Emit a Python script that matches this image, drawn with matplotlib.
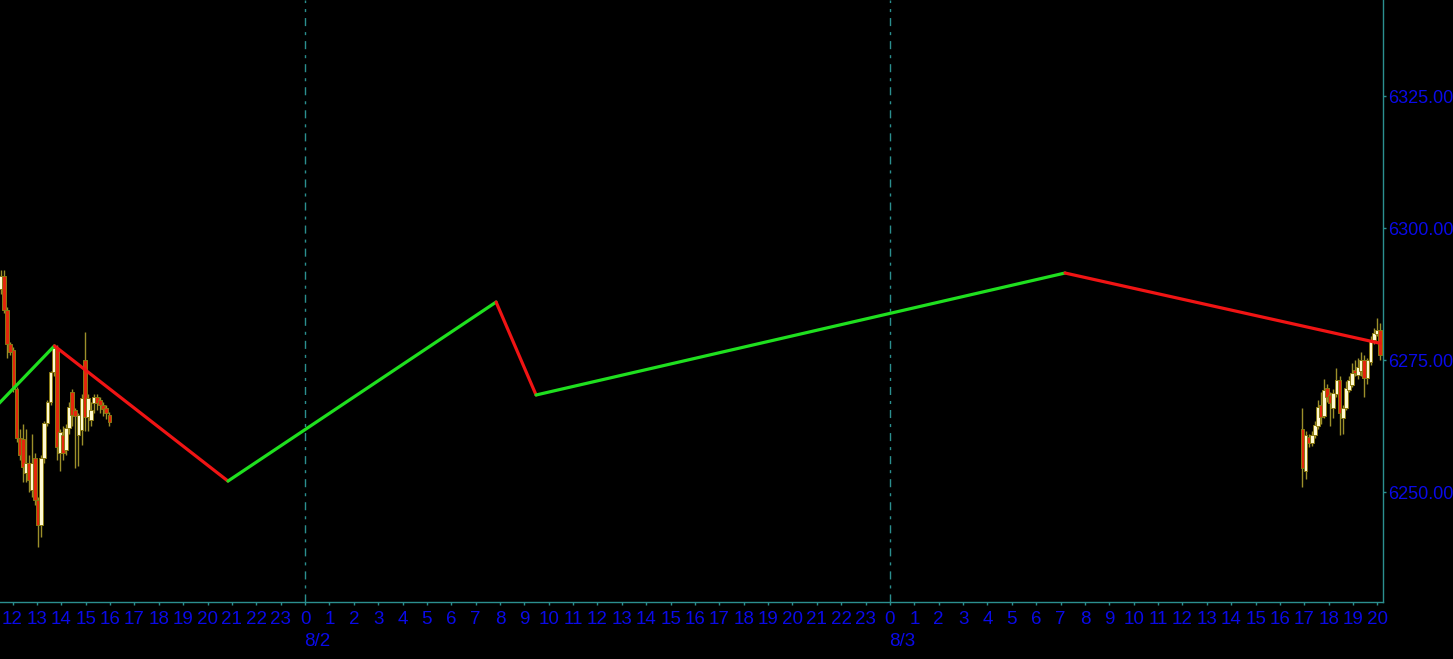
import matplotlib
matplotlib.use("Agg")
import matplotlib.pyplot as plt
import numpy as np

# time axis: hours since 8/1 00:00
ZZ_HOURS = [11.30, 13.72, 20.84, 31.84, 33.48, 55.18, 68.10]
ZZ_PRICES = [6266.1, 6277.7, 6252.1, 6286.0, 6268.4, 6291.5, 6278.2]

BAR_H = 0.127          # bar spacing (hours)
LEFT_START = 11.53
RIGHT_START = 64.92

LEFT_OPEN = [6288.5, 6291.0, 6284.5, 6278.0, 6277.0, 6269.6, 6260.2, 6260.0, 6253.6,
             6255.6, 6250.5, 6256.4, 6248.5, 6243.8, 6256.4, 6263.1, 6267.0, 6272.7,
             6277.3, 6257.4, 6260.8, 6258.0, 6262.1, 6268.9, 6265.5, 6260.8, 6261.7,
             6275.0, 6264.2, 6263.6, 6266.9, 6268.0, 6267.4, 6266.5, 6265.9, 6264.6]
LEFT_HIGH = [6292.0, 6292.0, 6285.0, 6278.5, 6277.5, 6270.0, 6262.0, 6263.0, 6262.0,
             6257.0, 6261.0, 6257.5, 6249.0, 6257.0, 6263.5, 6267.5, 6273.0, 6277.8,
             6277.8, 6262.0, 6262.5, 6263.0, 6267.0, 6269.5, 6266.0, 6265.0, 6268.5,
             6280.3, 6268.5, 6267.0, 6268.6, 6268.5, 6268.0, 6267.0, 6266.5, 6265.2]
LEFT_LOW = [6287.5, 6284.0, 6275.5, 6276.0, 6269.0, 6259.5, 6256.0, 6252.0, 6252.0,
            6250.0, 6249.0, 6247.5, 6239.6, 6241.5, 6255.5, 6262.5, 6266.5, 6272.0,
            6256.0, 6254.0, 6256.0, 6257.0, 6261.0, 6262.5, 6254.5, 6255.0, 6259.0,
            6261.5, 6261.5, 6262.5, 6265.0, 6265.5, 6265.0, 6264.5, 6263.8, 6262.5]
LEFT_CLOSE = [6291.0, 6284.5, 6278.0, 6276.6, 6269.6, 6260.2, 6257.0, 6254.8, 6255.6,
              6252.3, 6255.5, 6248.5, 6243.8, 6256.4, 6263.1, 6267.0, 6272.7, 6277.3,
              6258.5, 6261.4, 6257.4, 6262.1, 6266.1, 6264.6, 6264.5, 6264.6, 6267.8,
              6264.2, 6267.8, 6265.5, 6268.0, 6266.9, 6266.5, 6265.7, 6264.9, 6263.3]

RIGHT_OPEN = [6262.0, 6254.0, 6260.5, 6259.3, 6260.8, 6262.5, 6266.5, 6264.5, 6269.7,
              6268.4, 6266.0, 6268.5, 6271.2, 6264.0, 6265.9, 6269.3, 6270.3, 6273.1,
              6272.2, 6273.0, 6275.0, 6271.6, 6274.6, 6278.8, 6280.0, 6280.7]
RIGHT_HIGH = [6266.0, 6261.5, 6261.0, 6261.5, 6263.5, 6267.5, 6269.0, 6271.5, 6270.5,
              6269.0, 6269.5, 6273.5, 6272.0, 6266.5, 6271.0, 6272.0, 6274.5, 6275.0,
              6275.5, 6276.5, 6276.0, 6275.5, 6279.5, 6281.0, 6283.0, 6282.0]
RIGHT_LOW = [6251.0, 6252.5, 6258.5, 6258.8, 6260.3, 6262.0, 6263.0, 6264.0, 6267.0,
             6262.5, 6264.0, 6268.0, 6260.8, 6261.0, 6265.5, 6269.0, 6270.0, 6272.0,
             6271.5, 6272.0, 6268.0, 6270.5, 6274.0, 6278.0, 6279.5, 6275.0]
RIGHT_CLOSE = [6254.5, 6260.8, 6259.3, 6260.8, 6262.7, 6266.2, 6264.2, 6269.3, 6268.0,
               6266.9, 6268.8, 6271.3, 6265.0, 6266.0, 6269.7, 6271.2, 6272.5, 6272.5,
               6273.7, 6275.0, 6271.6, 6275.0, 6278.8, 6280.1, 6280.7, 6276.0]

Y_TICKS = [6250, 6275, 6300, 6325]
HOUR_TICKS = list(range(12, 69))
DAY_TICKS = [24, 48]
DAY_LABELS = ["8/2", "8/3"]

TEAL = "#2b8f8f"
BLUE = "#0a0ae8"
UP_FILL, DOWN_FILL = "#fff9d2", "#e4260c"
OUTLINE, WICK = "#8a7a12", "#9c8f2a"
FONT = ["Liberation Sans", "DejaVu Sans"]


def draw_candles(ax, start, o, h, l, c):
    o, h, l, c = map(np.asarray, (o, h, l, c))
    t = start + BAR_H * np.arange(len(o))
    ax.vlines(t, l, h, color=WICK, lw=1, zorder=2)
    up = c >= o
    fill = np.where(up, UP_FILL, DOWN_FILL)
    ax.bar(t, np.maximum(np.abs(c - o), 0.15), bottom=np.minimum(o, c), width=0.155,
           color=fill, edgecolor=OUTLINE, linewidth=0.7, zorder=3)


fig = plt.figure(figsize=(14.53, 6.59), dpi=100, facecolor="black")
ax = fig.add_axes([0, 57 / 659, 1383 / 1453, 602 / 659])
ax.set_facecolor("black")

for d in DAY_TICKS:
    ax.axvline(d, color=TEAL, lw=1, dashes=(5.8, 4.3, 2.2, 4.3), zorder=1)

draw_candles(ax, LEFT_START, LEFT_OPEN, LEFT_HIGH, LEFT_LOW, LEFT_CLOSE)
draw_candles(ax, RIGHT_START, RIGHT_OPEN, RIGHT_HIGH, RIGHT_LOW, RIGHT_CLOSE)

# zigzag: green up legs, red down legs
for i in range(len(ZZ_HOURS) - 1):
    col = "#1fe01f" if ZZ_PRICES[i + 1] > ZZ_PRICES[i] else "#f01414"
    ax.plot(ZZ_HOURS[i:i + 2], ZZ_PRICES[i:i + 2], color=col, lw=2.3,
            solid_capstyle="round", zorder=4)

ax.set_xlim(11.487, 68.226)
ax.set_ylim(6229.2, 6343.2)

for s in ("top", "left"):
    ax.spines[s].set_visible(False)
for s in ("right", "bottom"):
    ax.spines[s].set_color(TEAL)
    ax.spines[s].set_linewidth(1)

ax.yaxis.tick_right()
ax.set_yticks(Y_TICKS)
ax.set_yticklabels([f"{v:.2f}" for v in Y_TICKS], family=FONT, fontsize=13, color=BLUE)
ax.set_xticks(HOUR_TICKS)
ax.set_xticklabels([str(hr % 24) for hr in HOUR_TICKS], family=FONT, fontsize=13.5, color=BLUE)
ax.tick_params(axis="x", colors=TEAL, labelcolor=BLUE, length=2.5, width=1, pad=4)
ax.tick_params(axis="y", colors=TEAL, labelcolor=BLUE, length=2.5, width=1, pad=1)

for d, lab in zip(DAY_TICKS, DAY_LABELS):
    ax.annotate(lab, xy=(d, 0), xycoords=("data", "axes fraction"),
                xytext=(-1, -39), textcoords="offset pixels", ha="left", va="center",
                family=FONT, fontsize=13.5, color=BLUE, annotation_clip=False)

fig.savefig("out.png", dpi=100, facecolor="black")
